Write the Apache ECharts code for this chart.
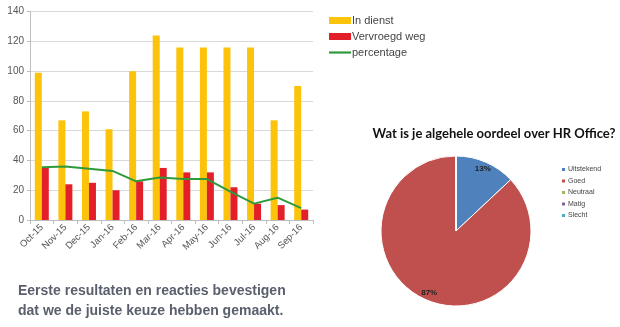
<!DOCTYPE html>
<html>
<head>
<meta charset="utf-8">
<script src="https://cdn.jsdelivr.net/npm/echarts@6/dist/echarts.min.js"></script>
<style>
html,body{margin:0;padding:0;background:#fff;}
#c{width:620px;height:327px;}
</style>
</head>
<body>
<div id="c"></div>
<script>
// ---- bar/line chart data ----
const months = ['Oct-15','Nov-15','Dec-15','Jan-16','Feb-16','Mar-16','Apr-16','May-16','Jun-16','Jul-16','Aug-16','Sep-16'];
const inDienst = [99, 67, 73, 61, 100, 124, 116, 116, 116, 116, 67, 90];
const vervroegdWeg = [35, 24, 25, 20, 26, 35, 32, 32, 22, 11, 10, 7];
const percentage = [35.5, 36, 34.5, 33, 26, 28.5, 27.5, 27.5, 19, 11, 15, 8];
const yTicks = [0, 20, 40, 60, 80, 100, 120, 140];

// ---- pie chart data ----
const pieTitle = 'Wat is je algehele oordeel over HR Office?';
const pieNames = ['Uitstekend', 'Goed', 'Neutraal', 'Matig', 'Slecht'];
const pieValues = [13, 87, 0, 0, 0];
const pieColors = ['#4f81bd', '#c0504d', '#9bbb59', '#8064a2', '#4bacc6'];

const captionLines = ['Eerste resultaten en reacties bevestigen', 'dat we de juiste keuze hebben gemaakt.'];

const pieData = pieNames.map((n, i) => ({ name: n, value: pieValues[i], itemStyle: { color: pieColors[i] } }));

const chart = echarts.init(document.getElementById('c'), null, { renderer: 'canvas' });
chart.setOption({
  animation: false,
  backgroundColor: '#ffffff',
  textStyle: { fontFamily: 'Liberation Sans, Arial, sans-serif' },
  title: {
    text: pieTitle,
    left: 489, top: 122, textAlign: 'center',
    textStyle: { fontFamily: 'Lato, sans-serif', fontWeight: 'bold', fontSize: 13, color: '#111' }
  },
  grid: { left: 30, right: 307, top: 11.7, bottom: 107, containLabel: false },
  legend: [
    {
      orient: 'vertical', left: 324, top: 10, itemGap: 5,
      itemWidth: 22, itemHeight: 7,
      textStyle: { fontSize: 11, color: '#444', padding: [0, 0, 0, -4] },
      data: [
        { name: 'In dienst', icon: 'rect' },
        { name: 'Vervroegd weg', icon: 'rect' },
        { name: 'percentage', icon: 'path://M0 0H40V4H0Z' }
      ]
    },
    {
      orient: 'vertical', left: 555, top: 161, itemGap: 4.5,
      itemWidth: 5, itemHeight: 5, icon: 'rect',
      textStyle: { fontSize: 7, color: '#444', padding: [0, 0, 0, -3] },
      data: pieNames
    }
  ],
  xAxis: {
    type: 'category', data: months,
    axisLine: { show: true, lineStyle: { color: '#bdbdbd' } },
    axisTick: { show: true, lineStyle: { color: '#bdbdbd' }, length: 4 },
    axisLabel: { rotate: 45, fontSize: 9.5, color: '#555', margin: 6 }
  },
  yAxis: {
    type: 'value', min: 0, max: 140, interval: 20,
    axisLine: { show: true, lineStyle: { color: '#bdbdbd' } },
    axisTick: { show: true, lineStyle: { color: '#bdbdbd' }, length: 3 },
    axisLabel: { fontSize: 10, color: '#555', margin: 6 },
    splitLine: { lineStyle: { color: '#d9d9d9' } }
  },
  series: [
    {
      name: 'In dienst', type: 'bar', data: inDienst, barWidth: 7, barGap: '0%',
      itemStyle: { color: '#fcc30b' }
    },
    {
      name: 'Vervroegd weg', type: 'bar', data: vervroegdWeg, barWidth: 7,
      itemStyle: { color: '#e3202a' }
    },
    {
      name: 'percentage', type: 'line', data: percentage, symbol: 'none', showSymbol: false,
      lineStyle: { color: '#2f9a3c', width: 2 }, itemStyle: { color: '#2f9a3c' }
    },
    {
      name: 'oordeel', type: 'pie', center: [456, 231], radius: 75,
      startAngle: 90, clockwise: true,
      data: pieData,
      label: { show: false }, labelLine: { show: false },
      itemStyle: { borderColor: '#ffffff', borderWidth: 1 },
      emphasis: { disabled: true }
    },
    {
      name: 'oordeelLabels', type: 'pie', center: [456, 231], radius: [54, 75],
      startAngle: 90, clockwise: true, silent: true,
      data: pieNames.map((n, i) => ({ name: n, value: pieValues[i] })),
      itemStyle: { color: 'rgba(0,0,0,0)', borderWidth: 0 },
      label: {
        show: true, position: 'inside', fontSize: 8, fontWeight: 'bold', color: '#222',
        formatter: p => (p.value > 0 ? p.percent.toFixed(0) + '%' : '')
      },
      labelLine: { show: false },
      emphasis: { disabled: true }
    }
  ],
  graphic: captionLines.map((t, i) => ({
    type: 'text', left: 18, top: 284 + i * 20,
    style: { text: t, font: 'bold 14px "Liberation Sans", Arial, sans-serif', fill: '#5a5f6d' }
  }))
});
</script>
</body>
</html>
